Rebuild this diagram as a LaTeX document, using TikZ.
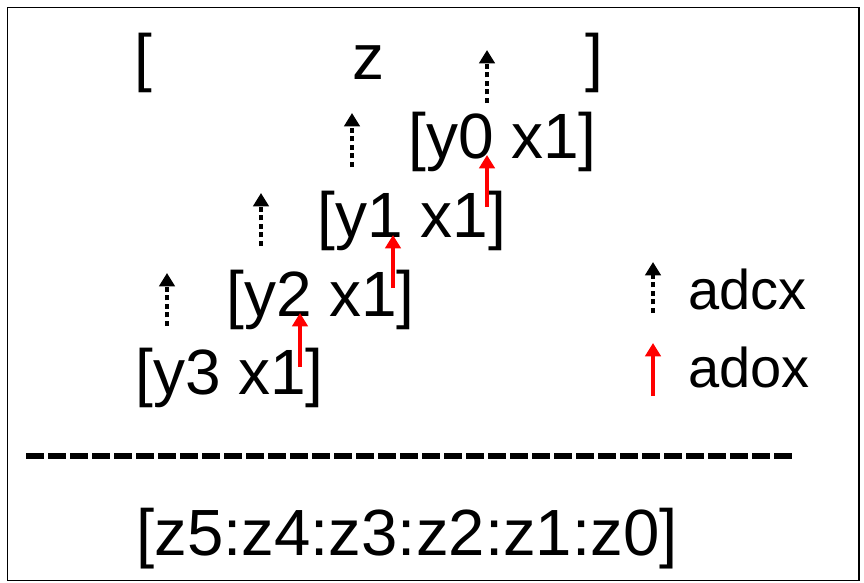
\documentclass[tikz,border=0pt]{standalone}
\usepackage{fontspec}
\setmainfont{Liberation Sans}
\usetikzlibrary{arrows.meta}
\begin{document}
\begin{tikzpicture}[x=0.75pt,y=-0.75pt,
  big/.style={font=\fontsize{48}{58}\selectfont, inner sep=0pt, anchor=base},
  leg/.style={font=\fontsize{42}{50}\selectfont, inner sep=0pt, anchor=base west},
  carry/.style={line width=3.4pt, dash pattern=on 4pt off 2.4pt, -{Triangle[width=11.5pt,length=10pt]}},
  ovf/.style={red, line width=3.6pt, -{Triangle[width=11.5pt,length=10pt]}},
  sep/.style={line width=4.5pt, dash pattern=on 13.5pt off 3pt},
]
\useasboundingbox (0,0) rectangle (864,582);
\draw[line width=1.1pt] (7.5,7.5) rectangle (859,580.5);

% texts
\node[big] (lb) at (143,79) {[};
\node[big] (z) at (368,79) {z};
\node[big] (rb) at (594,79) {]};
\node[big] (r0) at (502.5,158) {[y0 x1]};
\node[big] (r1) at (412,237) {[y1 x1]};
\node[big] (r2) at (320.5,316) {[y2 x1]};
\node[big] (r3) at (229.5,394) {[y3 x1]};
\node[big, font=\fontsize{49}{58}\selectfont] (sum) at (407,555) {[z5:z4:z3:z2:z1:z0]};
\node[leg] (ladcx) at (688,309) {adcx};
\node[leg] (ladox) at (688,387) {adox};

% arrow end points
\coordinate (c0s) at (487,103); \coordinate (c0e) at (487,50);
\coordinate (c1s) at (352,167); \coordinate (c1e) at (352,113);
\coordinate (c2s) at (261,246); \coordinate (c2e) at (261,193);
\coordinate (c3s) at (167,326); \coordinate (c3e) at (167,273);
\coordinate (cls) at (653,313); \coordinate (cle) at (653,262);
\coordinate (o0s) at (487,207); \coordinate (o0e) at (487,155);
\coordinate (o1s) at (393,288); \coordinate (o1e) at (393,235);
\coordinate (o2s) at (300,367); \coordinate (o2e) at (300,313);
\coordinate (ols) at (653,396); \coordinate (ole) at (653,343);
\coordinate (sepL) at (26,456); \coordinate (sepR) at (793,456);

% adcx (dotted black)
\draw[carry] (c0s) -- (c0e);
\draw[carry] (c1s) -- (c1e);
\draw[carry] (c2s) -- (c2e);
\draw[carry] (c3s) -- (c3e);
\draw[carry] (cls) -- (cle);
% adox (red)
\draw[ovf] (o0s) -- (o0e);
\draw[ovf] (o1s) -- (o1e);
\draw[ovf] (o2s) -- (o2e);
\draw[ovf] (ols) -- (ole);

% separator
\draw[sep] (sepL) -- (sepR);
\end{tikzpicture}
\end{document}
